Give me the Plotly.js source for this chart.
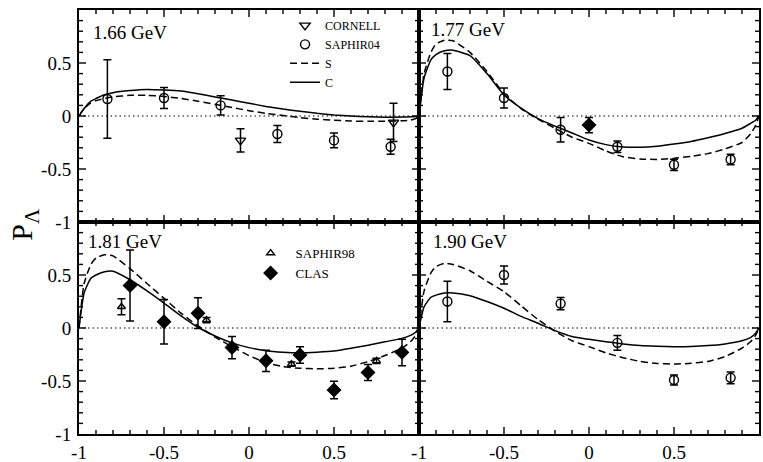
<!DOCTYPE html>
<html>
<head>
<meta charset="utf-8">
<script src="https://cdn.plot.ly/plotly-3.0.1.min.js"></script>
<style>
  html, body { margin: 0; padding: 0; background: #fff; }
  #chart { width: 763px; height: 462px; }
</style>
</head>
<body>
<div id="chart"></div>
<script>
// Lambda polarisation vs cos(theta) at four energies

// theory curves share one cos(theta) grid
const xTheory = [-1, -0.97, -0.93, -0.9, -0.85, -0.8, -0.7, -0.6, -0.5, -0.4, -0.3, -0.2, -0.1,
  0, 0.1, 0.2, 0.3, 0.4, 0.5, 0.6, 0.7, 0.8, 0.9, 0.95, 0.98, 1];

const s166 = [0, 0.07, 0.125, 0.145, 0.165, 0.18, 0.195, 0.195, 0.185, 0.165, 0.14, 0.11, 0.08,
  0.05, 0.025, 0.005, -0.015, -0.03, -0.04, -0.048, -0.05, -0.05, -0.045, -0.038, -0.025, 0];
const c166 = [0, 0.07, 0.14, 0.165, 0.2, 0.22, 0.24, 0.25, 0.245, 0.235, 0.21, 0.18, 0.15,
  0.12, 0.09, 0.065, 0.045, 0.025, 0.01, 0.0, -0.008, -0.012, -0.01, -0.007, -0.004, 0];

const s177 = [0, 0.4, 0.6, 0.68, 0.715, 0.71, 0.6, 0.42, 0.21, 0.07, -0.03, -0.115, -0.2,
  -0.258, -0.33, -0.385, -0.405, -0.41, -0.4, -0.38, -0.355, -0.31, -0.25, -0.17, -0.09, 0];
const c177 = [0, 0.36, 0.53, 0.58, 0.615, 0.62, 0.57, 0.4, 0.198, 0.074, -0.024, -0.095, -0.16,
  -0.226, -0.27, -0.292, -0.295, -0.285, -0.264, -0.24, -0.205, -0.165, -0.115, -0.07, -0.04, 0];

const s181 = [0, 0.42, 0.6, 0.66, 0.69, 0.68, 0.56, 0.42, 0.28, 0.14, 0.02, -0.085, -0.176,
  -0.26, -0.327, -0.365, -0.38, -0.385, -0.38, -0.36, -0.318, -0.26, -0.19, -0.13, -0.07, 0];
const c181 = [0, 0.33, 0.47, 0.5, 0.53, 0.535, 0.455, 0.35, 0.235, 0.115, 0.007, -0.075, -0.14,
  -0.185, -0.214, -0.228, -0.233, -0.228, -0.218, -0.192, -0.162, -0.13, -0.098, -0.07, -0.04, 0];

const s190 = [0, 0.35, 0.52, 0.58, 0.61, 0.6, 0.54, 0.44, 0.343, 0.21, 0.08, -0.03, -0.12,
  -0.176, -0.235, -0.28, -0.315, -0.335, -0.34, -0.333, -0.315, -0.27, -0.19, -0.13, -0.07, 0];
const c190 = [0, 0.2, 0.29, 0.31, 0.33, 0.33, 0.305, 0.25, 0.186, 0.11, 0.045, -0.025, -0.08,
  -0.107, -0.13, -0.15, -0.165, -0.172, -0.176, -0.174, -0.166, -0.15, -0.12, -0.09, -0.05, 0];

// SAPHIR04 data (same angles at each energy)
const xSaphir04 = [-0.833, -0.5, -0.167, 0.167, 0.5, 0.833];
const ySaphir04_166 = [0.16, 0.17, 0.10, -0.17, -0.23, -0.29];
const eSaphir04_166 = [0.37, 0.10, 0.09, 0.08, 0.07, 0.07];
const ySaphir04_177 = [0.42, 0.17, -0.13, -0.29, -0.46, -0.41];
const eSaphir04_177 = [0.17, 0.095, 0.115, 0.055, 0.053, 0.05];
const ySaphir04_190 = [0.25, 0.50, 0.23, -0.14, -0.49, -0.47];
const eSaphir04_190 = [0.19, 0.085, 0.058, 0.07, 0.047, 0.055];

// CORNELL at 1.66 GeV
const xCornell = [-0.05, 0.85];
const yCornell = [-0.23, -0.06];
const eCornell = [0.11, 0.18];

// CLAS
const xClas177 = [0];
const yClas177 = [-0.085];
const eClas177 = [0.072];
const xClas181 = [-0.7, -0.5, -0.3, -0.1, 0.1, 0.3, 0.5, 0.7, 0.9];
const yClas181 = [0.40, 0.06, 0.14, -0.185, -0.31, -0.255, -0.585, -0.42, -0.23];
const eClas181 = [0.335, 0.21, 0.145, 0.105, 0.10, 0.077, 0.083, 0.075, 0.125];

// SAPHIR98 at 1.81 GeV
const xSaphir98 = [-0.75, -0.25, 0.25, 0.75];
const ySaphir98 = [0.20, 0.075, -0.34, -0.31];
const eSaphir98 = [0.075, 0.025, 0.02, 0.025];

const panelLabels = ['1.66 GeV', '1.77 GeV', '1.81 GeV', '1.90 GeV'];

// tick marks (same on both axes, all four panels)
const majorTicks = [-1, -0.5, 0, 0.5, 1];
const innerMajor = [-0.5, 0, 0.5];
const minorTicks = [-0.9, -0.8, -0.7, -0.6, -0.4, -0.3, -0.2, -0.1, 0.1, 0.2, 0.3, 0.4, 0.6, 0.7, 0.8, 0.9];
const yLabelsTop = ['-1', '-0.5', '0', '0.5', '1'];
const yLabelsBottom = ['-1', '-0.5', '0', '0.5', ''];
const xLabels = ['-1', '-0.5', '0', '0.5', ''];

const FONT = '"Liberation Serif", "Times New Roman", serif';
const INK = '#000';
const W = 763, H = 462;
const M = { l: 79, r: 4, t: 10, b: 28 };
const PANEL_W = (W - M.l - M.r) / 2;
const PANEL_H = (H - M.t - M.b) / 2;

function errBar(arr) {
  return { type: 'data', array: arr, visible: true, color: INK, thickness: 1.5, width: 4 };
}

function curve(y, name, dashed, xa, ya, legendOn) {
  return {
    x: xTheory, y, type: 'scatter', mode: 'lines', name,
    xaxis: xa, yaxis: ya, showlegend: !!legendOn, legend: 'legend',
    line: { color: INK, width: 1.5, dash: dashed ? '7px,4px' : 'solid', shape: 'spline', smoothing: 0.5 },
    hoverinfo: 'skip',
  };
}

function points(x, y, e, name, symbol, size, xa, ya, legendOn, legendId) {
  return {
    x, y, type: 'scatter', mode: 'markers', name,
    xaxis: xa, yaxis: ya, showlegend: !!legendOn, legend: legendId || 'legend',
    marker: { symbol, size, color: INK, line: { color: INK, width: 1.4 } },
    error_y: errBar(e), cliponaxis: false,
  };
}

const traces = [
  // 1.66 GeV (top left) - legend order CORNELL, SAPHIR04, S, C
  points(xCornell, yCornell, eCornell, 'CORNELL', 'triangle-down-open', 9, 'x', 'y', true),
  points(xSaphir04, ySaphir04_166, eSaphir04_166, 'SAPHIR04', 'circle-open', 9, 'x', 'y', true),
  curve(s166, 'S', true, 'x', 'y', true),
  curve(c166, 'C', false, 'x', 'y', true),
  // 1.77 GeV (top right)
  curve(s177, 'S', true, 'x2', 'y2'),
  curve(c177, 'C', false, 'x2', 'y2'),
  points(xSaphir04, ySaphir04_177, eSaphir04_177, 'SAPHIR04', 'circle-open', 9, 'x2', 'y2'),
  points(xClas177, yClas177, eClas177, 'CLAS', 'diamond', 10, 'x2', 'y2'),
  // 1.81 GeV (bottom left)
  curve(s181, 'S', true, 'x3', 'y3'),
  curve(c181, 'C', false, 'x3', 'y3'),
  points(xSaphir98, ySaphir98, eSaphir98, 'SAPHIR98', 'triangle-up-open', 7, 'x3', 'y3', true, 'legend2'),
  points(xClas181, yClas181, eClas181, 'CLAS', 'diamond', 10, 'x3', 'y3', true, 'legend2'),
  // 1.90 GeV (bottom right)
  curve(s190, 'S', true, 'x4', 'y4'),
  curve(c190, 'C', false, 'x4', 'y4'),
  points(xSaphir04, ySaphir04_190, eSaphir04_190, 'SAPHIR04', 'circle-open', 9, 'x4', 'y4'),
];

function axisBase(extra) {
  return Object.assign({
    range: [-1, 1], showgrid: false, zeroline: false,
    showline: true, linecolor: INK, linewidth: 2, mirror: true,
    ticks: '', tickmode: 'array', tickvals: majorTicks,
    tickfont: { family: FONT, size: 19, color: INK },
    showticklabels: false, fixedrange: true,
  }, extra);
}

function labelled(text, extra) {
  return Object.assign({ showticklabels: true, ticktext: text, ticklabelstandoff: 2 }, extra);
}

// inward tick marks on all four sides of a panel, lengths in px
function tickShapes(xa, ya) {
  const out = [];
  const put = (v, len) => {
    const fy = len / PANEL_H, fx = len / PANEL_W;
    const ln = { color: INK, width: 1.4 };
    out.push({ type: 'line', xref: xa, yref: ya + ' domain', x0: v, x1: v, y0: 0, y1: fy, line: ln });
    out.push({ type: 'line', xref: xa, yref: ya + ' domain', x0: v, x1: v, y0: 1, y1: 1 - fy, line: ln });
    out.push({ type: 'line', xref: xa + ' domain', yref: ya, x0: 0, x1: fx, y0: v, y1: v, line: ln });
    out.push({ type: 'line', xref: xa + ' domain', yref: ya, x0: 1, x1: 1 - fx, y0: v, y1: v, line: ln });
  };
  innerMajor.forEach(v => put(v, 7));
  minorTicks.forEach(v => put(v, 4));
  return out;
}

function zeroLine(xa, ya) {
  return {
    type: 'line', xref: xa + ' domain', yref: ya, x0: 0, x1: 1, y0: 0, y1: 0,
    line: { color: INK, width: 1.2, dash: '1.5px,3px' }, layer: 'below',
  };
}

function panelNote(text, xa, ya, xpos, ypos) {
  return {
    text, xref: xa + ' domain', yref: ya + ' domain', x: xpos, y: ypos,
    xanchor: 'left', yanchor: 'top', showarrow: false,
    font: { family: FONT, size: 19, color: INK },
  };
}

const panels = [['x', 'y'], ['x2', 'y2'], ['x3', 'y3'], ['x4', 'y4']];

const layout = {
  width: W, height: H,
  margin: M,
  paper_bgcolor: '#fff', plot_bgcolor: 'rgba(0,0,0,0)',
  font: { family: FONT, color: INK },
  xaxis: axisBase({ domain: [0, 0.5], anchor: 'y' }),
  yaxis: axisBase(labelled(yLabelsTop, { domain: [0.5, 1], anchor: 'x' })),
  xaxis2: axisBase({ domain: [0.5, 1], anchor: 'y2' }),
  yaxis2: axisBase({ domain: [0.5, 1], anchor: 'x2' }),
  xaxis3: axisBase(labelled(xLabels, { domain: [0, 0.5], anchor: 'y3', ticklabelstandoff: 0 })),
  yaxis3: axisBase(labelled(yLabelsBottom, { domain: [0, 0.5], anchor: 'x3' })),
  xaxis4: axisBase(labelled(xLabels, { domain: [0.5, 1], anchor: 'y4', ticklabelstandoff: 0 })),
  yaxis4: axisBase({ domain: [0, 0.5], anchor: 'x4' }),
  shapes: panels.map(p => zeroLine(p[0], p[1]))
    .concat(...panels.map(p => tickShapes(p[0], p[1]))),
  annotations: [
    panelNote(panelLabels[0], 'x', 'y', 0.035, 0.955),
    panelNote(panelLabels[1], 'x2', 'y2', 0.03, 0.965),
    panelNote(panelLabels[2], 'x3', 'y3', 0.02, 0.965),
    panelNote(panelLabels[3], 'x4', 'y4', 0.035, 0.965),
    {
      text: 'P<sub>Λ</sub>', xref: 'paper', yref: 'paper', x: -0.08, y: 0.495,
      textangle: -90, showarrow: false, xanchor: 'center', yanchor: 'middle',
      font: { family: FONT, size: 30, color: INK },
    },
  ],
  legend: {
    x: 0.303, y: 0.998, xanchor: 'left', yanchor: 'top',
    bgcolor: 'rgba(0,0,0,0)', borderwidth: 0, itemwidth: 30,
    font: { family: FONT, size: 12, color: INK }, traceorder: 'normal',
  },
  legend2: {
    x: 0.245, y: 0.462, xanchor: 'left', yanchor: 'top',
    bgcolor: 'rgba(0,0,0,0)', borderwidth: 0, itemwidth: 40,
    font: { family: FONT, size: 13, color: INK }, traceorder: 'normal',
  },
};

Plotly.newPlot('chart', traces, layout, { displayModeBar: false, staticPlot: true });
</script>
</body>
</html>
